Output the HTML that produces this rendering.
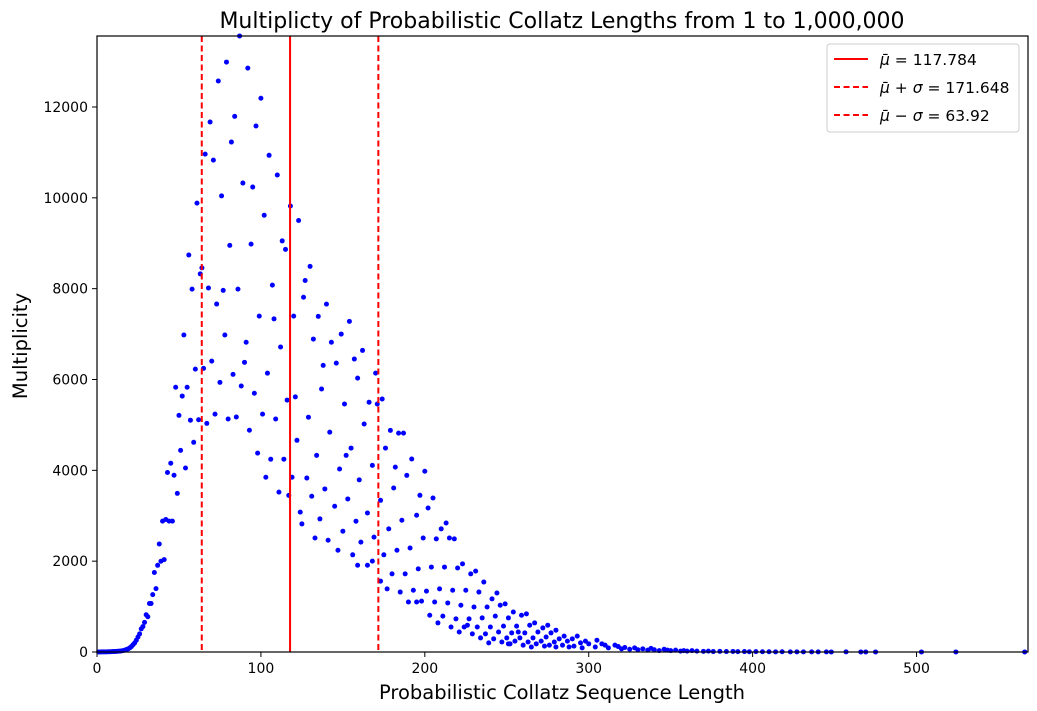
<!DOCTYPE html>
<html><head><meta charset="utf-8"><style>
html,body{margin:0;padding:0;background:#fff;}
svg{display:block;font-family:"DejaVu Sans","Liberation Sans",sans-serif;}
</style></head><body>
<svg id="chart" width="1037" height="711"></svg>
<script>
const xs = [1,2,3,4,5,6,7,8,9,10,11,12,13,14,15,16,17,18,19,20,21,22,23,24,25,26,27,28,29,30,31,32,33,34,35,36,37,38,39,40,41,42,44,46,
87,79,92,74,100,84,69,97,82,66,71,105,110,89,95,76,61,118,102,113,115,81,94,56,64,63,58,68,77,86,107,73,99,108,120,53,78,91,112,60,65,70,90,83,104,75,48,55,88,52,96,116,121,50,57,62,67,72,80,85,101,109,93,59,122,51,98,45,43,47,54,106,114,103,119,49,111,117,
123,130,127,126,140,135,154,149,132,143,162,157,138,146,170,159,137,151,166,171,174,129,163,142,179,184,187,155,176,134,152,192,148,168,182,200,189,128,160,181,139,131,153,173,197,205,145,202,124,165,195,136,158,186,213,125,210,178,150,133,141,161,169,199,207,215,218,147,183,191,156,175,159,165,168,196,204,212,220,223,228,231,236,173,180,188,177,185,193,201,209,217,225,233,241,244,246,249,190,195,198,206,214,222,230,238,203,211,219,227,235,243,251,208,216,224,226,232,240,248,221,229,237,245,234,242,250,239,247,251,
254,259,262,256,264,267,275,272,253,257,261,269,277,280,258,266,274,282,285,293,290,255,263,271,279,287,295,298,305,252,260,268,276,284,291,300,308,265,273,280,288,296,304,310,316,
312,318,320,322,325,328,330,333,336,338,340,343,346,348,350,353,356,358,360,363,366,370,373,376,380,384,388,391,395,398,402,406,410,414,418,423,427,431,436,440,445,448,457,466,469,475,503,524,566];
const ys = [1,1,2,2,3,4,5,6,8,10,12,14,17,20,24,30,40,55,70,90,120,160,200,260,330,400,510,560,652,820,776,1068,1067,1263,1750,1396,1909,2378,1998,2882,2033,2918,2882,2882,
13564,12989,12856,12573,12193,11794,11670,11582,11228,10962,10830,10936,10502,10325,10237,10042,9883,9820,9617,9051,8865,8953,8980,8741,8458,8325,7989,8015,7962,7989,8077,7661,7396,7334,7396,6980,6980,6821,6715,6228,6245,6405,6378,6113,6139,5936,5830,5830,5857,5635,5697,5547,5617,5210,5104,5113,5033,5237,5130,5175,5237,5130,4882,4617,4661,4440,4378,4157,3953,3891,4051,4245,4245,3847,3847,3493,3520,3449,
9500,8490,8180,7810,7660,7390,7280,7000,6890,6820,6640,6450,6310,6360,6140,6030,5790,5460,5500,5460,5570,5170,5020,4840,4880,4820,4820,4490,4490,4330,4330,4250,4030,4110,4070,3980,3890,3830,3790,3610,3590,3430,3370,3340,3450,3390,3210,3170,3080,3060,3010,2930,2880,2900,2840,2820,2710,2710,2660,2510,2460,2420,2530,2510,2490,2510,2490,2240,2240,2290,2140,2140,1910,1910,2000,1830,1870,1870,1850,1940,1720,1780,1540,1560,1720,1720,1390,1320,1360,1340,1390,1360,1360,1320,1170,1300,1030,1060,1100,1100,1120,1100,1080,1030,990,990,810,790,730,730,750,790,750,640,550,550,590,550,550,570,440,400,400,440,310,290,310,200,220,180,
880,810,840,570,590,640,590,530,420,440,420,440,420,480,310,310,330,290,350,350,290,240,220,240,220,240,200,240,260,180,150,180,150,150,130,180,180,110,130,110,110,90,110,150,150,
90,120,70,100,60,90,50,70,40,80,50,30,60,40,30,40,20,30,20,30,20,15,20,10,15,10,12,8,10,6,8,5,6,4,5,3,4,2,3,2,2,1,2,1,1,1,1,1,1];
const xTicks = [0,100,200,300,400,500];
const yTicks = [0,2000,4000,6000,8000,10000,12000];
const meanVal = 117.784, plusVal = 171.648, minusVal = 63.92;

const NS = "http://www.w3.org/2000/svg";
const svg = document.getElementById('chart');
const L=97,R=1028,T=36,B=652,XMAX=568,YMAX=13563;
const sx = v => L + v/XMAX*(R-L);
const sy = v => B - v/YMAX*(B-T);
function mk(tag, attrs, parent){const e=document.createElementNS(NS,tag);for(const k in attrs)e.setAttribute(k,attrs[k]);(parent||svg).appendChild(e);return e;}

const pts = mk('g',{});


for(let i=0;i<xs.length;i++){
  const c=mk('circle',{cx:sx(xs[i]),cy:sy(ys[i]),r:2.5,fill:'#0000ff'},pts);
  
  
}
function vline(v,dash,name){
  const l=mk('line',{x1:sx(v),x2:sx(v),y1:T,y2:B,stroke:'#ff0000','stroke-width':2});
  if(dash)l.setAttribute('stroke-dasharray','6,3.5');
  
  
}
vline(meanVal,false,'mean-line');
vline(plusVal,true,'mean-plus-sigma-line');
vline(minusVal,true,'mean-minus-sigma-line');

const frame=mk('rect',{x:L,y:T,width:R-L,height:B-T,fill:'none',stroke:'#000','stroke-width':1.2});



xTicks.forEach(t=>{
  mk('line',{x1:sx(t),x2:sx(t),y1:B,y2:B+5,stroke:'#000','stroke-width':1});
  const tx=mk('text',{x:sx(t),y:B+21,'text-anchor':'middle','font-size':14},svg);
  tx.textContent=t;
  
  
});
yTicks.forEach(t=>{
  mk('line',{x1:L-5,x2:L,y1:sy(t),y2:sy(t),stroke:'#000','stroke-width':1});
  const tx=mk('text',{x:L-9,y:sy(t)+5,'text-anchor':'end','font-size':14},svg);
  tx.textContent=t;
  
  
});
</script>
<svg width="1037" height="711" style="position:absolute;left:0;top:0;">
  <text x="562" y="28" text-anchor="middle" font-size="22" font-family="DejaVu Sans, Liberation Sans, sans-serif">Multiplicty of Probabilistic Collatz Lengths from 1 to 1,000,000</text>
  <text x="562" y="699" text-anchor="middle" font-size="19.5" font-family="DejaVu Sans, Liberation Sans, sans-serif">Probabilistic Collatz Sequence Length</text>
  <text x="27" y="346" text-anchor="middle" font-size="19.5" font-family="DejaVu Sans, Liberation Sans, sans-serif" transform="rotate(-90 27 346)">Multiplicity</text>
  <g font-family="DejaVu Sans, Liberation Sans, sans-serif" font-size="15.5">
    <rect x="827" y="44" width="192" height="88" rx="3" fill="#fff" stroke="#ccc" stroke-width="1"/>
    <line x1="834" y1="59" x2="868" y2="59" stroke="#f00" stroke-width="2"/>
    <text x="880" y="65"><tspan font-style="italic">μ̄</tspan> = 117.784</text>
    <line x1="834" y1="87" x2="868" y2="87" stroke="#f00" stroke-width="2" stroke-dasharray="6,3.5"/>
    <text x="880" y="93"><tspan font-style="italic">μ̄</tspan> + <tspan font-style="italic">σ</tspan> = 171.648</text>
    <line x1="834" y1="115" x2="868" y2="115" stroke="#f00" stroke-width="2" stroke-dasharray="6,3.5"/>
    <text x="880" y="121"><tspan font-style="italic">μ̄</tspan> − <tspan font-style="italic">σ</tspan> = 63.92</text>
  </g>
</svg>
</body></html>
